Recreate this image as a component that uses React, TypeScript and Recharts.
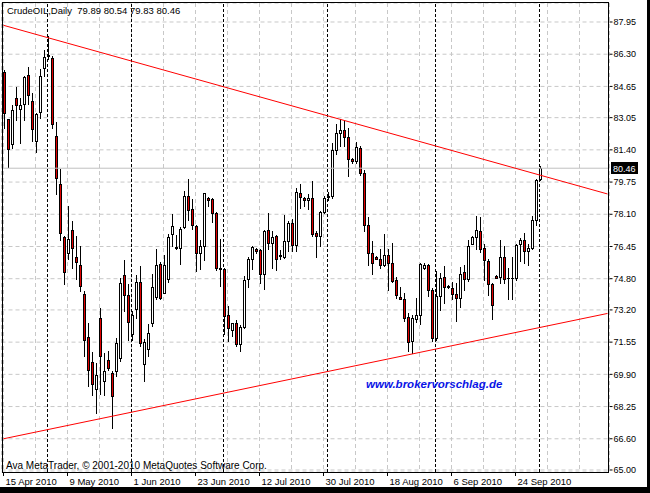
import { BarChart, Bar, XAxis, YAxis, CartesianGrid, ReferenceLine } from "recharts";

const FONT = '"Liberation Sans", Arial, sans-serif';
const BEAR = "#e00000";

// daily candles (bar 0 = 15 Apr 2010)
const opens = [
    85.35, 82.93, 81.68, 84.04, 83.48, 83.73, 85.22, 83.89, 81.84, 83.32, 85.58, 86.17, 86.09, 82.07, 79.64, 76.92,
    76.10, 77.26, 75.90, 75.49, 74.00, 71.80, 70.52, 69.13, 72.77, 69.52, 70.63, 69.92, 70.03, 70.72, 74.94, 73.96,
    71.92, 73.23, 74.62, 70.38, 71.18, 72.51, 73.83, 75.55, 74.05, 74.78, 77.07, 76.40, 76.36, 77.43, 79.01, 78.35,
    77.46, 76.10, 76.47, 78.92, 78.87, 78.15, 75.31, 75.28, 72.89, 72.14, 72.48, 71.44, 72.31, 74.77, 75.76, 76.31,
    76.23, 75.03, 77.26, 76.61, 76.95, 76.00, 75.90, 76.70, 77.65, 76.49, 79.17, 78.92, 78.80, 78.92, 77.09, 76.95,
    78.20, 78.95, 79.00, 81.39, 82.25, 82.37, 82.04, 80.90, 80.79, 81.48, 80.20, 77.54, 76.10, 75.90, 75.79, 75.50,
    76.01, 75.59, 74.73, 73.85, 73.74, 72.82, 71.57, 72.72, 72.90, 75.33, 75.50, 74.22, 71.76, 73.88, 74.87, 74.39,
    74.31, 74.00, 73.80, 75.13, 74.77, 76.56, 76.92, 77.24, 76.36, 75.67, 74.51, 74.90, 74.87, 75.90, 74.82, 74.79,
    74.79, 76.53, 76.78, 76.18, 76.36, 77.77, 79.89,
];
const highs = [
    85.46, 82.97, 83.65, 84.60, 84.04, 85.15, 85.63, 84.30, 83.27, 85.53, 86.49, 87.21, 86.17, 82.81, 80.40, 76.95,
    78.49, 77.72, 76.95, 76.44, 74.13, 72.51, 71.00, 70.47, 73.28, 70.98, 71.06, 70.03, 71.75, 74.82, 75.71, 74.48,
    73.11, 74.94, 75.41, 71.70, 72.43, 74.99, 76.32, 75.62, 76.01, 77.04, 78.11, 76.99, 77.43, 79.26, 79.89, 78.87,
    77.50, 76.78, 79.17, 78.95, 78.92, 78.18, 76.82, 75.31, 73.37, 72.50, 72.68, 72.38, 74.90, 75.90, 76.47, 76.33,
    76.27, 77.29, 78.15, 77.21, 76.99, 76.23, 78.06, 77.72, 77.84, 79.43, 79.60, 78.95, 79.09, 79.77, 77.21, 78.23,
    79.00, 79.19, 81.74, 82.72, 82.93, 82.89, 82.50, 80.97, 81.77, 81.56, 80.33, 77.95, 76.73, 75.93, 76.27, 77.04,
    76.27, 76.61, 74.87, 74.36, 74.02, 73.03, 72.94, 73.80, 75.60, 75.59, 75.54, 74.31, 75.16, 75.08, 75.41, 74.43,
    74.58, 74.56, 75.38, 75.50, 76.75, 76.95, 78.01, 77.95, 76.53, 75.76, 74.56, 74.94, 76.75, 76.44, 75.33, 75.90,
    76.53, 76.87, 77.13, 76.53, 77.98, 79.89, 80.54,
];
const lows = [
    82.50, 80.51, 81.48, 82.89, 81.74, 82.89, 83.70, 81.85, 81.25, 83.02, 85.15, 86.05, 82.50, 79.12, 76.78, 74.51,
    75.76, 75.33, 74.77, 74.13, 70.80, 69.27, 68.84, 67.90, 68.89, 68.84, 70.12, 67.14, 69.78, 70.55, 73.11, 71.61,
    71.61, 72.77, 71.35, 69.52, 70.80, 72.34, 73.74, 73.74, 74.02, 74.62, 76.44, 76.31, 75.52, 77.38, 77.76, 77.33,
    75.16, 75.28, 75.72, 78.52, 77.69, 75.21, 74.39, 71.92, 71.57, 71.83, 71.35, 71.06, 72.26, 74.36, 75.25, 76.10,
    74.56, 74.26, 76.31, 75.33, 75.21, 75.79, 75.84, 76.18, 76.18, 76.18, 78.41, 78.52, 78.32, 76.95, 75.90, 76.44,
    78.15, 78.81, 78.92, 81.14, 81.56, 81.56, 80.02, 80.71, 80.68, 80.11, 77.24, 75.49, 74.99, 75.76, 75.33, 75.41,
    74.19, 74.59, 73.76, 73.71, 72.60, 71.06, 70.99, 72.55, 72.43, 75.25, 73.91, 71.57, 71.61, 73.15, 73.54, 74.32,
    73.71, 72.60, 73.33, 74.22, 74.65, 76.53, 76.27, 76.15, 74.70, 73.96, 72.72, 74.80, 74.56, 74.56, 73.71, 73.71,
    74.73, 75.67, 75.59, 75.50, 76.27, 77.55, 79.83,
];
const closes = [
    83.24, 81.44, 83.44, 83.68, 83.68, 85.12, 84.17, 82.45, 83.22, 85.17, 86.14, 86.22, 82.71, 79.94, 77.13, 75.13,
    76.82, 76.36, 75.64, 74.39, 71.61, 70.12, 69.39, 69.85, 70.81, 70.07, 70.21, 68.75, 71.49, 74.56, 73.93, 72.55,
    72.89, 74.62, 71.49, 71.53, 72.00, 74.36, 75.49, 73.80, 75.50, 76.92, 77.46, 76.35, 77.33, 79.01, 78.29, 77.50,
    76.10, 76.47, 79.14, 78.83, 78.15, 75.31, 75.28, 72.85, 72.26, 72.48, 71.44, 72.31, 74.73, 75.76, 76.41, 76.18,
    75.03, 77.24, 76.61, 76.92, 75.76, 75.95, 76.70, 77.65, 76.49, 79.23, 78.95, 78.80, 78.92, 77.04, 76.95, 78.20,
    78.92, 79.00, 81.39, 82.25, 82.37, 82.04, 80.92, 80.80, 81.53, 80.20, 77.54, 76.10, 75.59, 75.79, 75.50, 76.01,
    75.59, 74.68, 73.93, 73.74, 72.77, 71.52, 72.77, 72.92, 75.55, 75.50, 74.20, 71.75, 73.88, 74.82, 74.36, 74.36,
    74.00, 73.80, 75.04, 74.77, 76.44, 76.92, 77.26, 76.31, 75.72, 74.51, 73.42, 74.82, 75.90, 74.77, 74.79, 74.82,
    76.49, 76.78, 76.18, 76.36, 77.77, 79.82, 80.46,
];

// chart keeps empty space right of the last bar
const slotCount = 152;
const labelSlots = [0, 16, 32, 48, 64, 80, 96, 112, 128];
const dateLabels = ["15 Apr 2010", "9 May 2010", "1 Jun 2010", "23 Jun 2010", "12 Jul 2010", "30 Jul 2010", "18 Aug 2010", "6 Sep 2010", "24 Sep 2010"];
const gridSlots = [0, 8, 16, 24, 32, 40, 48, 56, 64, 72, 80, 88, 96, 104, 112, 120, 128, 136, 144];
const priceTicks = [65.0, 66.6, 68.25, 69.9, 71.55, 73.2, 74.8, 76.45, 78.1, 79.75, 81.4, 83.05, 84.65, 86.3, 87.95];
const monthSeparators = [11, 32, 55, 81, 108, 134];
const upperTrend = [{ x: 0, y: 87.78 }, { x: 151, y: 79.14 }];
const lowerTrend = [{ x: 0, y: 66.6 }, { x: 151, y: 73.02 }];
const lastPrice = 80.46;

const data = Array.from({ length: slotCount }, (_, i) => ({
    i,
    open: opens[i] ?? null,
    high: highs[i] ?? null,
    low: lows[i] ?? null,
    close: closes[i] ?? null,
}));

const snap = (v: number) => Math.round(v - 0.5) + 0.5;

function Candle(props: any) {
    const { x, y, width, height, payload } = props;
    if (!payload || payload.open == null) return null;
    const { open, high, low, close } = payload;
    const top = Math.min(y, y + height);
    const k = Math.abs(height) / (high - low);
    const py = (v: number) => top + (high - v) * k;
    const cx = Math.floor(x + width / 2) + 0.5;
    const yO = snap(py(open));
    const yC = snap(py(close));
    const bTop = Math.min(yO, yC);
    const bBot = Math.max(yO, yC);
    const up = close >= open;
    return (
        <g>
            <line x1={cx} x2={cx} y1={snap(py(high))} y2={snap(py(low))} stroke="#000" strokeLinecap="square" />
            {bBot - bTop >= 1 ? (
                <rect x={cx - 1} y={bTop} width={2} height={bBot - bTop} fill={up ? "#fff" : BEAR} stroke="#000" />
            ) : (
                <line x1={cx - 1} x2={cx + 1} y1={bTop} y2={bTop} stroke="#000" strokeLinecap="square" />
            )}
        </g>
    );
}

function DateTick(props: any) {
    const { x, y, payload } = props;
    const idx = labelSlots.indexOf(payload.value);
    if (idx < 0) return <g />;
    return (
        <g>
            <line x1={x} x2={x} y1={y} y2={y + 4} stroke="#000" />
            <text x={x + 2} y={y + 13} fontSize={9.5} fontFamily={FONT} fill="#000">{dateLabels[idx]}</text>
        </g>
    );
}

function BidTag(props: any) {
    const vb = props.viewBox || {};
    const x = Math.round(vb.x + vb.width) + 1;
    const y = Math.round(vb.y);
    return (
        <g>
            <rect x={x} y={y - 6} width={27} height={12} fill="#000" />
            <text x={x + 2} y={y + 3.5} fontSize={9} fontFamily={FONT} fill="#fff">{lastPrice.toFixed(2)}</text>
        </g>
    );
}

export default function App() {
    return (
        <div style={{ position: "absolute", left: 0, top: 0, width: 650, height: 493, background: "#fff", overflow: "hidden" }}>
            <BarChart width={650} height={493} data={data} margin={{ top: 3, right: 0, bottom: 0, left: 1.5 }}>
                <CartesianGrid stroke="#c8c8c8" strokeDasharray="4 3" />
                <XAxis
                    dataKey="i"
                    type="category"
                    ticks={gridSlots}
                    interval={0}
                    height={21}
                    tickSize={0}
                    tickMargin={0}
                    tickLine={false}
                    axisLine={false}
                    tick={<DateTick />}
                />
                <YAxis
                    orientation="right"
                    type="number"
                    domain={[64.8975, 88.923]}
                    allowDataOverflow
                    ticks={priceTicks}
                    interval={0}
                    width={40.5}
                    axisLine={false}
                    tickLine={{ stroke: "#000" }}
                    tickSize={3}
                    tickMargin={1}
                    tickFormatter={(v: number) => v.toFixed(2)}
                    tick={{ fill: "#000", fontSize: 9, fontFamily: FONT }}
                />
                {monthSeparators.map((s) => (
                    <ReferenceLine key={s} x={s} stroke="#000" strokeDasharray="3 2" />
                ))}
                <ReferenceLine y={lastPrice} stroke="#c0c0c0" label={<BidTag />} />
                <ReferenceLine segment={upperTrend} stroke="#ff0000" />
                <ReferenceLine segment={lowerTrend} stroke="#ff0000" />
                <Bar
                    dataKey={(d: any) => (d.open == null ? null : [d.low, d.high])}
                    barSize={3}
                    shape={<Candle />}
                    isAnimationActive={false}
                />
            </BarChart>
            {/* frame and overlays */}
            <div style={{ position: "absolute", left: 2, top: 2, width: 607, height: 471, border: "1px solid #000", boxSizing: "border-box", pointerEvents: "none" }} />
            <div style={{ position: "absolute", left: 7, top: 5, fontFamily: FONT, fontSize: 9.5, lineHeight: "11px", whiteSpace: "pre", color: "#000" }}>
                {"CrudeOIL,Daily  79.89 80.54 79.83 80.46"}
            </div>
            <div style={{ position: "absolute", left: 6, top: 460, fontFamily: FONT, fontSize: 10, lineHeight: "11px", whiteSpace: "pre", color: "#000" }}>
                Ava MetaTrader, © 2001-2010 MetaQuotes Software Corp.
            </div>
            <div style={{ position: "absolute", left: 366, top: 377, fontFamily: FONT, fontSize: 11.5, lineHeight: "14px", fontWeight: "bold", fontStyle: "italic", color: "#0a14e6", whiteSpace: "pre" }}>
                www.brokervorschlag.de
            </div>
            <div style={{ position: "absolute", right: 0, top: 0, width: 3, height: 493, background: "#000" }} />
            <div style={{ position: "absolute", left: 0, bottom: 0, width: 650, height: 6, background: "#000" }} />
        </div>
    );
}
